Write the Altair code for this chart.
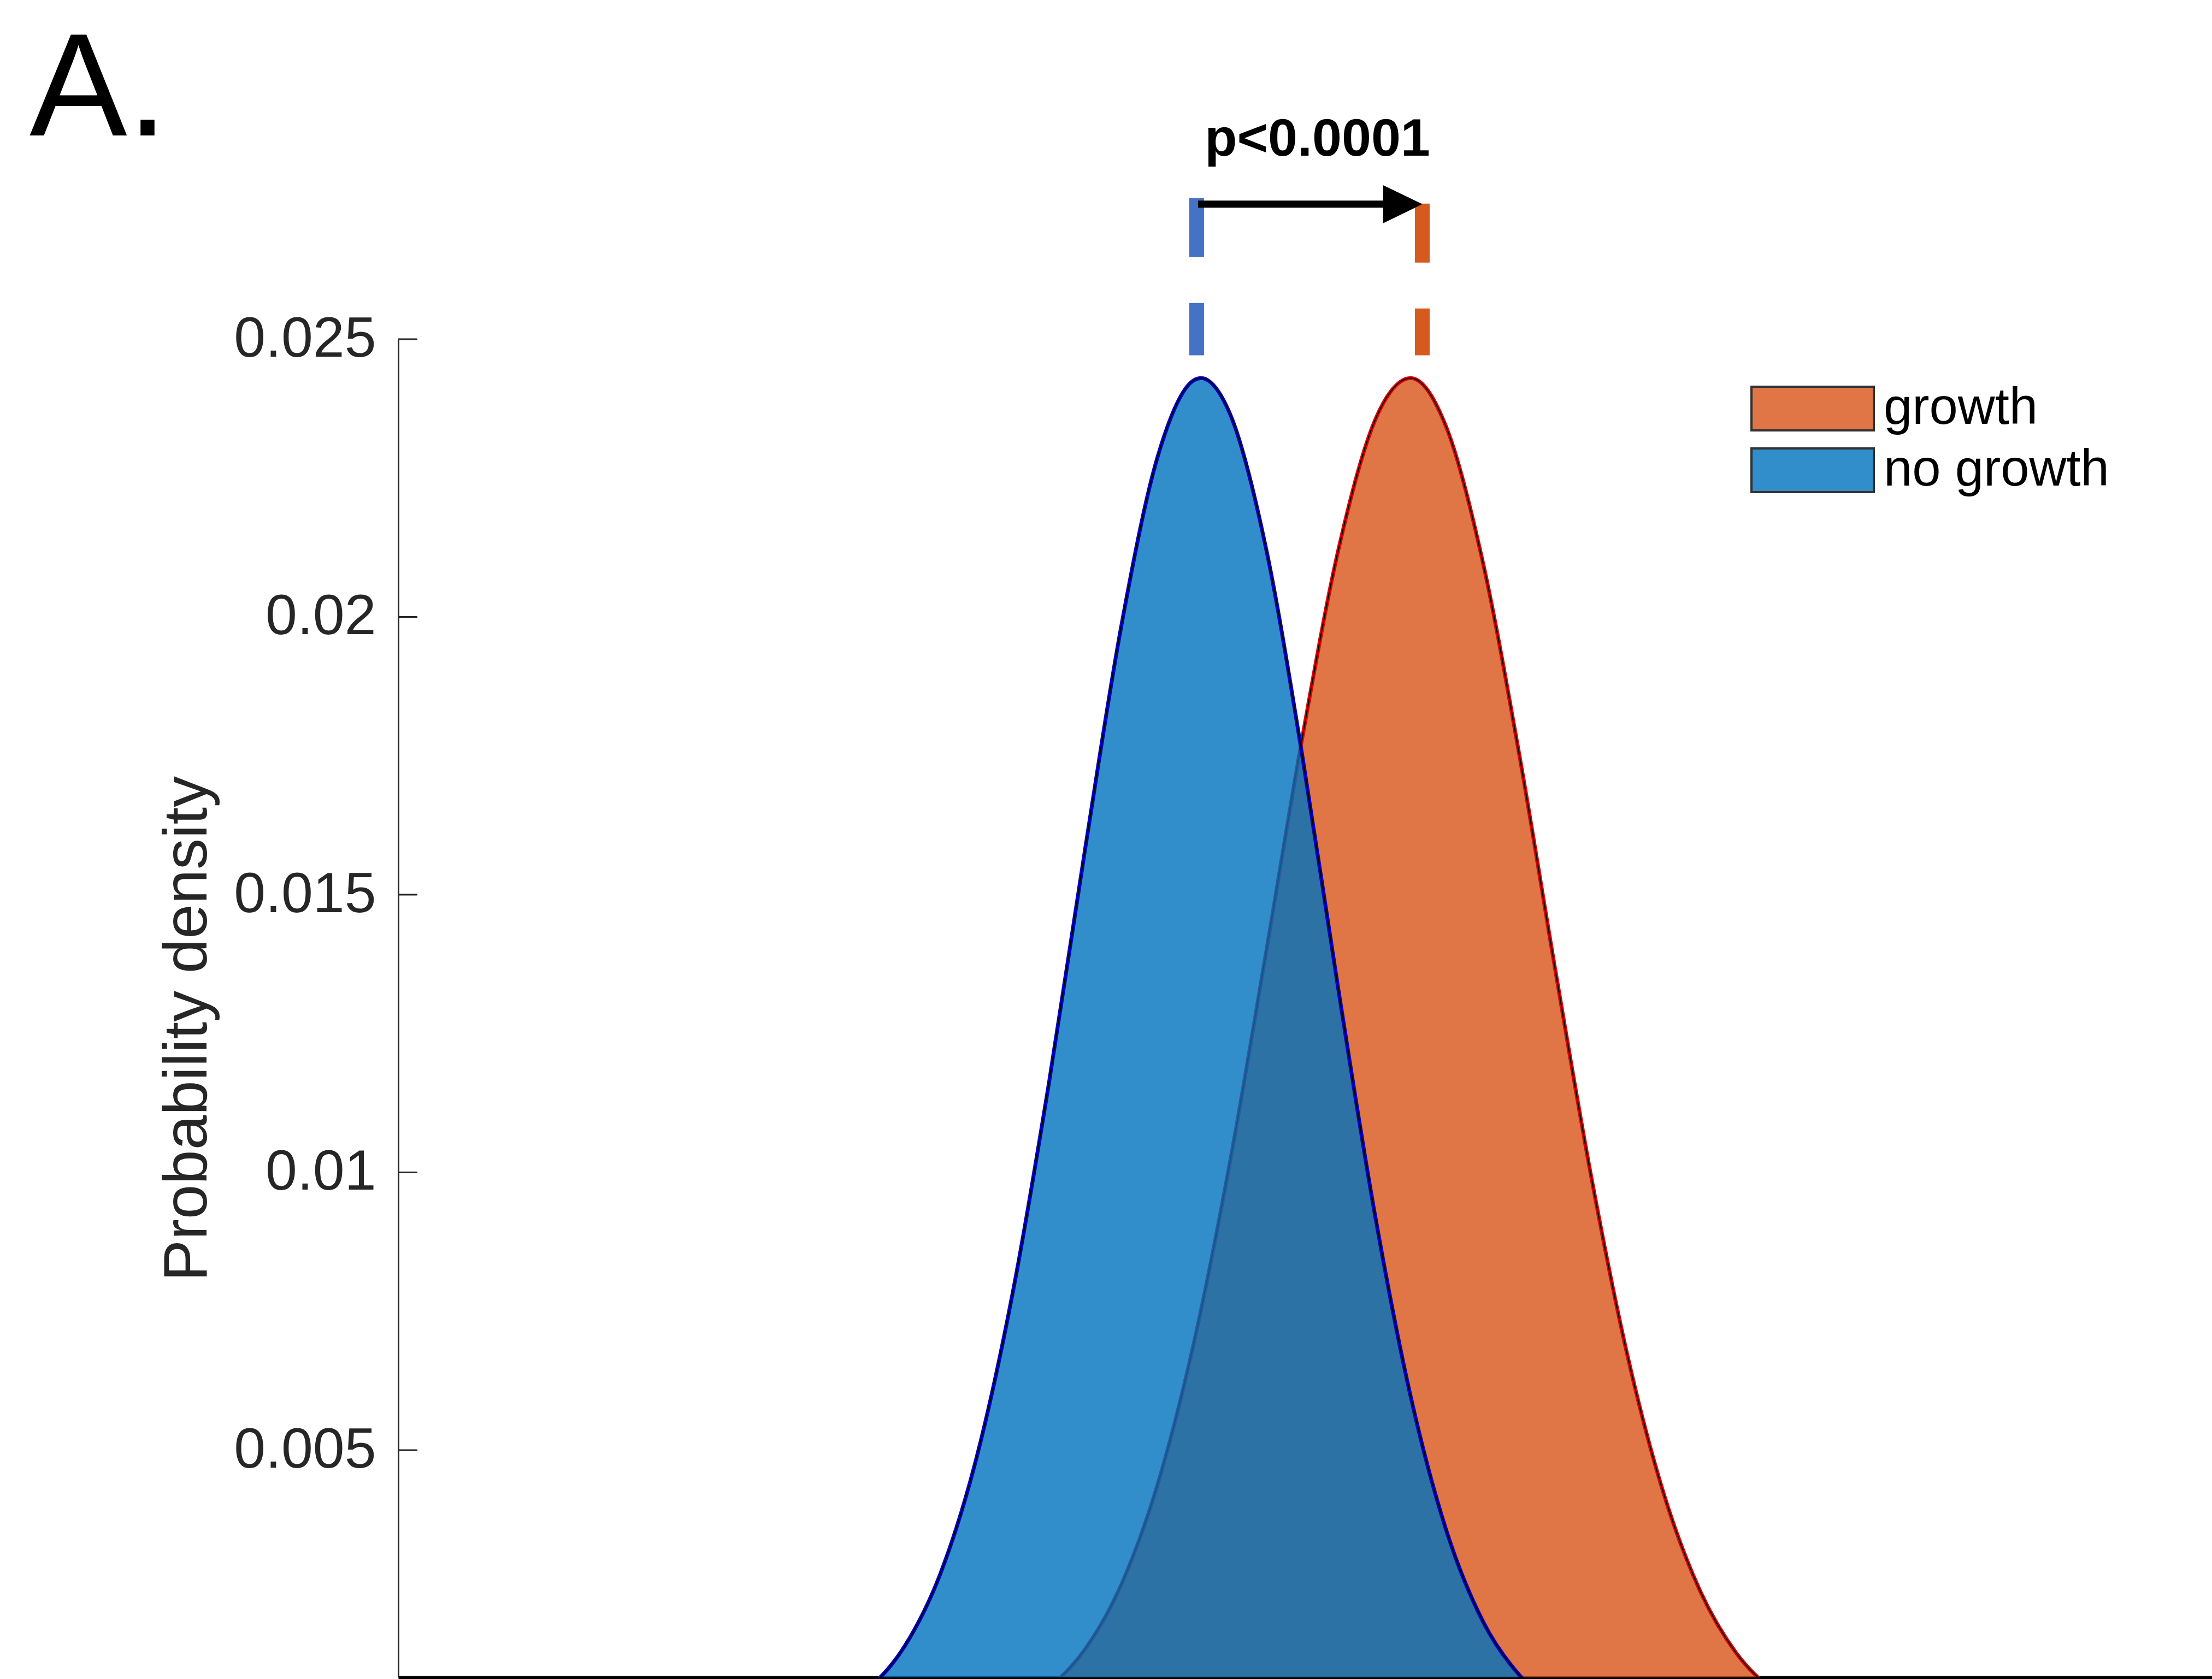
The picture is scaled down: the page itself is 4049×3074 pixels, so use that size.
import altair as alt
import pandas as pd

# ---------------- data ----------------
groups = ["growth", "no growth"]
fill_colors = ["#D95319", "#0072BD"]
outline_colors = ["black", "black"]
edge_colors = ["#E00000", "#0000C8"]
dash_colors = ["#D65A1E", "#4472C4"]

x_growth = [70, 75, 80, 85, 90, 95, 100, 105, 110, 115, 120, 125, 130, 135, 140,
            145, 150, 155, 160, 165, 170, 175, 180, 185, 190, 195, 200, 205]
dens_growth = [0.0000247, 0.0000638, 0.000154, 0.000347, 0.000727, 0.001421, 0.002585,
               0.004382, 0.006921, 0.01018, 0.01396, 0.01782, 0.02121, 0.02352, 0.0243,
               0.02339, 0.02097, 0.01753, 0.01364, 0.009895, 0.006688, 0.004211, 0.002471,
               0.00135, 0.000688, 0.000326, 0.000144, 0.0000593]

x_nogrowth = [50, 55, 60, 65, 70, 75, 80, 85, 90, 95, 100, 105, 110, 111,
              115, 120, 125, 130, 135, 140, 145, 150, 155, 160, 165, 170]
dens_nogrowth = [0.0000485, 0.000129, 0.000315, 0.000709, 0.001466, 0.002789, 0.004882,
                 0.007857, 0.01163, 0.01584, 0.01985, 0.02288, 0.02426, 0.0243,
                 0.02366, 0.02123, 0.01751, 0.01329, 0.00928, 0.005963, 0.003524,
                 0.001914, 0.000957, 0.00044, 0.000186, 0.0000724]

y_tick_values = [0.005, 0.01, 0.015, 0.02, 0.025]
y_domain = [0.00091, 0.025]
x_domain = [0, 250.8]

mean_x = [141.6, 110.4]          # growth, no growth
mean_top = [0.02744, 0.02754]
mean_bottom = [0.02471, 0.02471]

arrow_start, arrow_end, arrow_head, arrow_y = 110.6, 136.2, 138.9, 0.02743
p_text, p_x, p_y = "p<0.0001", 127.1, 0.0283
panel_label = "A."

FONT = "Liberation Sans"

# ---------------- tables ----------------
curves = pd.concat([
    pd.DataFrame({"x": x_growth, "d": dens_growth, "group": "growth"}),
    pd.DataFrame({"x": x_nogrowth, "d": dens_nogrowth, "group": "no growth"}),
])
means = pd.DataFrame({"x": mean_x, "top": mean_top, "bottom": mean_bottom, "group": groups})
arrow = pd.DataFrame({"x": [arrow_start], "x2": [arrow_end], "y": [arrow_y]})
head = pd.DataFrame({"x": [arrow_head], "y": [arrow_y]})
ptext = pd.DataFrame({"x": [p_x], "y": [p_y], "t": [p_text]})
yticks = pd.DataFrame({"t": y_tick_values})
panel = pd.DataFrame({"t": [panel_label]})

xaxis = alt.Axis(labels=False, ticks=False, title=None, grid=False,
                 domainColor="black", domainWidth=6)
yaxis = alt.Axis(values=y_tick_values, format="~g", ticks=False, labelPadding=41,
                 labelFont=FONT, labelFontSize=104, labelColor="#262626", labelLimit=0,
                 domainColor="#262626", domainWidth=3, grid=False,
                 title="Probability density", titleFont=FONT, titleFontSize=114,
                 titleFontWeight="normal", titleColor="#262626", titleAngle=270,
                 titleAlign="center", titleBaseline="alphabetic",
                 titleX=-352, titleY=1262)


def X(f):
    return alt.X(f, type="quantitative",
                 scale=alt.Scale(domain=x_domain, nice=False, zero=False), axis=xaxis)


def Y(f):
    return alt.Y(f, type="quantitative",
                 scale=alt.Scale(domain=y_domain, nice=False, zero=False), axis=yaxis)


legend = alt.Legend(title=None, orient="none", legendX=2542, legendY=80,
                    symbolType="M -2.8 -1 L 2.8 -1 L 2.8 1 L -2.8 1 Z",
                    symbolSize=6400, symbolStrokeWidth=4, symbolOpacity=0.8,
                    labelFont=FONT, labelFontSize=94, labelColor="black",
                    labelOffset=83, rowPadding=17, padding=0, labelLimit=0)
fill = alt.Fill("group:N", scale=alt.Scale(domain=groups, range=fill_colors), legend=legend)
outline = alt.Stroke("group:N", scale=alt.Scale(domain=groups, range=outline_colors),
                     legend=legend)

base = alt.Chart(curves)
layers = []
for g, edge in zip(groups, edge_colors):
    sub = base.transform_filter(alt.datum.group == g)
    layers.append(sub.mark_area(opacity=0.8, clip=True, interpolate="monotone", strokeWidth=3)
                  .encode(x=X("x"), y=Y("d"), fill=fill, stroke=outline))
    layers.append(sub.mark_line(color=edge, strokeWidth=7, clip=True, interpolate="monotone")
                  .encode(x=X("x"), y=Y("d")))
    layers.append(sub.mark_line(color="black", strokeWidth=2, clip=True, interpolate="monotone")
                  .encode(x=X("x"), y=Y("d")))

dash_layers = []
for g, dc in zip(groups, dash_colors):
    dash_layers.append(
        alt.Chart(means).transform_filter(alt.datum.group == g)
        .mark_rule(strokeDash=[108, 84], strokeWidth=27, color=dc)
        .encode(x=X("x"), y=Y("top"), y2="bottom"))

arrow_line = alt.Chart(arrow).mark_rule(color="black", strokeWidth=13).encode(
    x=X("x"), x2="x2", y=Y("y"))
arrow_tip = alt.Chart(head).mark_point(
    shape="M -1 -0.97 L 1 0 L -1 0.97 Z", size=5184, filled=True, color="black",
    opacity=1, strokeWidth=0).encode(x=X("x"), y=Y("y"))
p_label = alt.Chart(ptext).mark_text(font=FONT, fontWeight="bold", fontSize=97,
                                     align="center", baseline="alphabetic",
                                     color="black").encode(x=X("x"), y=Y("y"), text="t:N")
tick_marks = alt.Chart(yticks).mark_rule(color="#262626", strokeWidth=3).encode(
    y=Y("t"), x=alt.value(0), x2=alt.value(35))
panel_text = alt.Chart(panel).mark_text(font=FONT, fontSize=268, align="left",
                                        baseline="alphabetic", color="black").encode(
    x=alt.value(-675), y=alt.value(-373), text="t:N")

chart = alt.layer(*layers, *dash_layers, arrow_line, arrow_tip, p_label, tick_marks,
                  panel_text).properties(
    width=3320, height=2450,
    autosize=alt.AutoSizeParams(type="none"),
    padding={"left": 729, "top": 621, "right": 0, "bottom": 3},
    background="white",
).configure_view(stroke=None)

chart.save("out.html", embed_options={"renderer": "svg", "actions": False})
